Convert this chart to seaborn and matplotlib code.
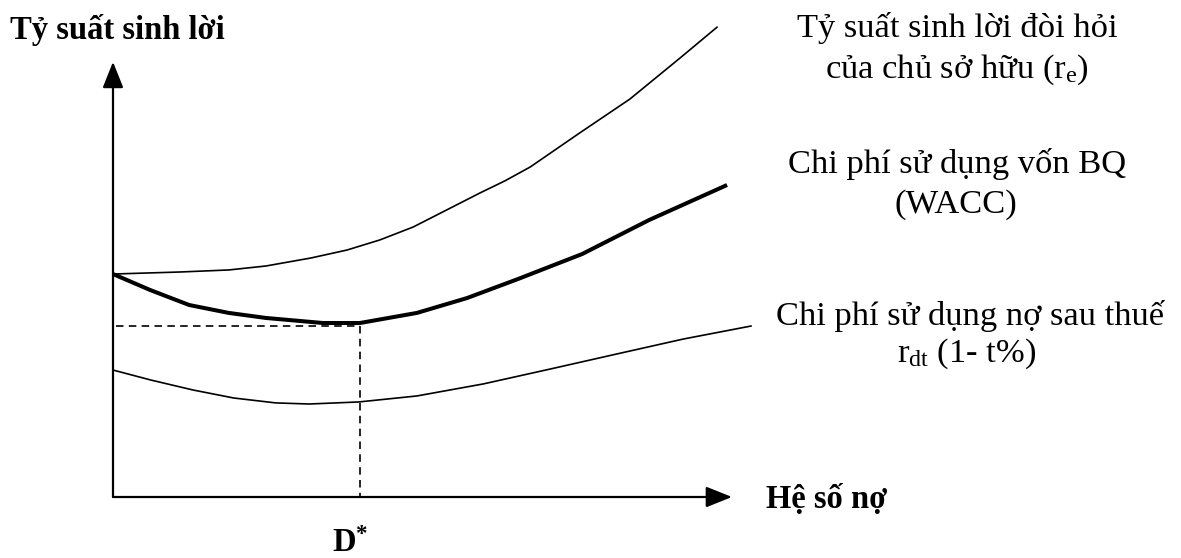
import matplotlib
matplotlib.use("Agg")
import matplotlib.pyplot as plt
import seaborn as sns
import pandas as pd

# ---- data (debt ratio vs. return, %) ----
equity_x = [0.0, 0.108, 0.187, 0.247, 0.320, 0.378, 0.431, 0.485, 0.593, 0.633, 0.674,
            0.754, 0.835, 0.916, 0.976]
equity_y = [9.29, 9.375, 9.46, 9.625, 9.96, 10.29, 10.71, 11.25, 12.67, 13.17, 13.75,
            15.17, 16.58, 18.29, 19.58]

wacc_x = [0.0, 0.060, 0.123, 0.187, 0.247, 0.339, 0.399, 0.491, 0.572, 0.654, 0.758, 0.866, 0.992]
wacc_y = [9.29, 8.625, 8.0, 7.67, 7.46, 7.25, 7.25, 7.67, 8.29, 9.08, 10.125, 11.54, 13.0]

debt_x = [0.0, 0.061, 0.129, 0.195, 0.263, 0.317, 0.397, 0.491, 0.598, 0.706, 0.814, 0.921, 1.031]
debt_y = [5.29, 4.875, 4.46, 4.125, 3.92, 3.875, 3.96, 4.21, 4.71, 5.33, 5.96, 6.58, 7.125]

d_star = 0.399
wacc_min = 7.13

y_axis_label = "Tỷ suất sinh lời"
x_axis_label = "Hệ số nợ"
label_equity = ["Tỷ suất sinh lời đòi hỏi", r"của chủ sở hữu $\mathregular{(r_e)}$"]
label_wacc = ["Chi phí sử dụng vốn BQ", "(WACC)"]
label_debt = ["Chi phí sử dụng nợ sau thuế", r"$\mathregular{r_{dt}}$ (1- t%)"]
d_star_label = r"$\mathregular{D^{*}}$"

# ---- styling ----
sns.set_theme(style="white")
plt.rcParams["font.family"] = ["Liberation Serif", "DejaVu Serif"]
plt.rcParams["mathtext.fontset"] = "custom"
plt.rcParams["mathtext.rm"] = "Liberation Serif"
plt.rcParams["mathtext.it"] = "Liberation Serif:italic"
plt.rcParams["mathtext.bf"] = "Liberation Serif:bold"

W, H = 1181, 558
fig = plt.figure(figsize=(W / 100, H / 100), dpi=100)
fig.patch.set_facecolor("white")

x0, y0 = 113, 497          # pixel position of origin
px_per_x = 619.0           # pixels per 1.0 debt ratio
px_per_y = 24.0            # pixels per 1 % return
xmax, ymax = 1.06, 20.2
ax = fig.add_axes([x0 / W, (H - y0) / H, xmax * px_per_x / W, ymax * px_per_y / H])
ax.set_xlim(0, xmax)
ax.set_ylim(0, ymax)
ax.axis("off")

df_e = pd.DataFrame({"x": equity_x, "y": equity_y})
df_w = pd.DataFrame({"x": wacc_x, "y": wacc_y})
df_d = pd.DataFrame({"x": debt_x, "y": debt_y})
sns.lineplot(data=df_e, x="x", y="y", ax=ax, color="black", lw=1.2, sort=False, clip_on=False,
             solid_joinstyle="round")
sns.lineplot(data=df_w, x="x", y="y", ax=ax, color="black", lw=2.9, sort=False, clip_on=False,
             solid_capstyle="butt", solid_joinstyle="round")
sns.lineplot(data=df_d, x="x", y="y", ax=ax, color="black", lw=1.2, sort=False, clip_on=False,
             solid_joinstyle="round")

# dashed guides to optimum
ax.plot([0.005, d_star], [wacc_min, wacc_min], color="black", lw=1.2, ls=(0, (4.5, 3.2)))
ax.plot([d_star, d_star], [wacc_min, 0], color="black", lw=1.2, ls=(0, (4.5, 3.2)))

# axes with arrows
ax.annotate("", xy=(0, 18.13), xytext=(0, 0),
            arrowprops=dict(arrowstyle="-|>,head_length=0.8,head_width=0.32", lw=1.6, color="black",
                            shrinkA=0, shrinkB=0, mutation_scale=20))
ax.annotate("", xy=(1.0, 0), xytext=(0, 0),
            arrowprops=dict(arrowstyle="-|>,head_length=0.8,head_width=0.32", lw=1.6, color="black",
                            shrinkA=0, shrinkB=0, mutation_scale=20))

def ftext(px, py, s, **kw):
    fig.text(px / W, 1 - py / H, s, va="baseline", color="black", **kw)

REG = 24.8
BOLD = 23.5
ftext(10, 39, y_axis_label, fontsize=BOLD, fontweight="bold", ha="left")
ftext(766, 508, x_axis_label, fontsize=BOLD, fontweight="bold", ha="left")
ftext(332, 552, d_star_label, fontsize=BOLD, fontweight="bold", ha="left")

ftext(957, 37, label_equity[0], fontsize=REG, ha="center")
ftext(957, 78, label_equity[1], fontsize=REG, ha="center")
ftext(957, 173, label_wacc[0], fontsize=REG, ha="center")
ftext(956, 213, label_wacc[1], fontsize=REG, ha="center")
ftext(970, 325, label_debt[0], fontsize=REG, ha="center")
ftext(967, 362, label_debt[1], fontsize=REG, ha="center")

fig.savefig("out.png", dpi=100, facecolor="white")
